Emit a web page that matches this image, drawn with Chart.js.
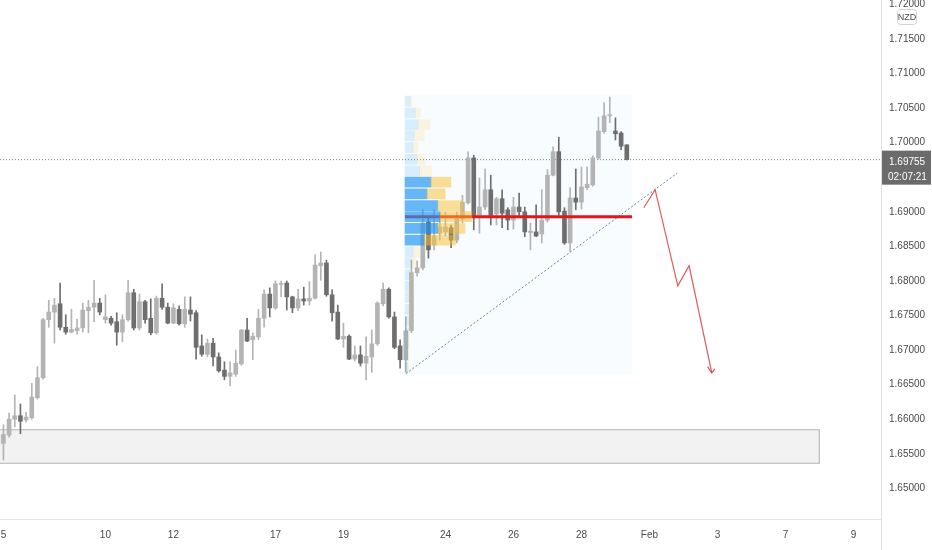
<!DOCTYPE html>
<html>
<head>
<meta charset="utf-8">
<script src="https://cdn.jsdelivr.net/npm/chart.js@4.4.1/dist/chart.umd.min.js"></script>
<style>
  html, body { margin: 0; padding: 0; background: #fff; }
  #wrap { width: 932px; height: 550px; }
</style>
</head>
<body>
<div id="wrap"><canvas id="chart" width="932" height="550"></canvas></div>
<script>
// 4h candles, index 0 = Jan 4 20:00, index 1 = Jan 5 00:00 (6 bars per trading day)
const opens = [
  1.6562, 1.6565, 1.6577, 1.6600, 1.6605, 1.6599, 1.6602, 1.6631, 1.6660, 1.6744,
  1.6755, 1.6767, 1.6733, 1.6726, 1.6728, 1.6732, 1.6757, 1.6762, 1.6768, 1.6744,
  1.6746, 1.6741, 1.6726, 1.6744, 1.6783, 1.6732, 1.6770, 1.6746, 1.6725, 1.6775,
  1.6762, 1.6739, 1.6759, 1.6738, 1.6758, 1.6754, 1.6706, 1.6694, 1.6710, 1.6690,
  1.6671, 1.6662, 1.6665, 1.6680, 1.6729, 1.6715, 1.6719, 1.6746, 1.6781, 1.6761,
  1.6795, 1.6797, 1.6777, 1.6761, 1.6774, 1.6771, 1.6775, 1.6822, 1.6826, 1.6780,
  1.6755, 1.6716, 1.6720, 1.6687, 1.6693, 1.6681, 1.6690, 1.6709, 1.6767, 1.6788,
  1.6748, 1.6706, 1.6686, 1.6728, 1.6812, 1.6819, 1.6885, 1.6852, 1.6869, 1.6871,
  1.6877, 1.6859, 1.6890, 1.6913, 1.6978, 1.6893, 1.6907, 1.6932, 1.6897, 1.6919,
  1.6903, 1.6888, 1.6907, 1.6900, 1.6870, 1.6871, 1.6868, 1.6888, 1.6953, 1.6987,
  1.6901, 1.6855, 1.6920, 1.6914, 1.6935, 1.6939, 1.6978, 1.7016, 1.7039, 1.7017,
  1.7014, 1.6997
];
const highs = [
  1.6581, 1.6592, 1.6609, 1.6635, 1.6622, 1.6610, 1.6652, 1.6676, 1.6746, 1.6772,
  1.6775, 1.6797, 1.6751, 1.6759, 1.6745, 1.6768, 1.6772, 1.6801, 1.6775, 1.6780,
  1.6749, 1.6754, 1.6751, 1.6801, 1.6788, 1.6781, 1.6772, 1.6774, 1.6778, 1.6796,
  1.6768, 1.6767, 1.6764, 1.6777, 1.6777, 1.6757, 1.6722, 1.6716, 1.6717, 1.6696,
  1.6683, 1.6683, 1.6700, 1.6730, 1.6746, 1.6725, 1.6759, 1.6787, 1.6790, 1.6800,
  1.6800, 1.6800, 1.6778, 1.6788, 1.6791, 1.6799, 1.6838, 1.6842, 1.6830, 1.6787,
  1.6765, 1.6739, 1.6722, 1.6706, 1.6706, 1.6719, 1.6729, 1.6770, 1.6797, 1.6790,
  1.6755, 1.6715, 1.6748, 1.6830, 1.6829, 1.6903, 1.6894, 1.6903, 1.6898, 1.6900,
  1.6881, 1.6900, 1.6924, 1.6987, 1.6982, 1.6949, 1.6962, 1.6953, 1.6921, 1.6932,
  1.6906, 1.6921, 1.6927, 1.6907, 1.6884, 1.6910, 1.6932, 1.6961, 1.6994, 1.7008,
  1.6906, 1.6935, 1.6962, 1.6965, 1.6965, 1.6981, 1.7037, 1.7058, 1.7066, 1.7036,
  1.7016, 1.6997
];
const lows = [
  1.6558, 1.6541, 1.6574, 1.6589, 1.6579, 1.6596, 1.6600, 1.6629, 1.6658, 1.6733,
  1.6710, 1.6729, 1.6723, 1.6725, 1.6723, 1.6726, 1.6725, 1.6741, 1.6751, 1.6739,
  1.6736, 1.6707, 1.6712, 1.6742, 1.6729, 1.6729, 1.6739, 1.6722, 1.6723, 1.6759,
  1.6738, 1.6738, 1.6736, 1.6733, 1.6742, 1.6687, 1.6691, 1.6690, 1.6677, 1.6668,
  1.6657, 1.6648, 1.6662, 1.6678, 1.6712, 1.6686, 1.6715, 1.6733, 1.6748, 1.6759,
  1.6777, 1.6758, 1.6754, 1.6757, 1.6765, 1.6765, 1.6774, 1.6801, 1.6778, 1.6742,
  1.6715, 1.6704, 1.6686, 1.6684, 1.6677, 1.6657, 1.6668, 1.6707, 1.6764, 1.6746,
  1.6702, 1.6674, 1.6668, 1.6725, 1.6807, 1.6816, 1.6833, 1.6845, 1.6859, 1.6865,
  1.6848, 1.6855, 1.6884, 1.6911, 1.6874, 1.6869, 1.6903, 1.6881, 1.6881, 1.6877,
  1.6874, 1.6875, 1.6895, 1.6864, 1.6845, 1.6864, 1.6855, 1.6885, 1.6952, 1.6895,
  1.6853, 1.6842, 1.6903, 1.6904, 1.6932, 1.6937, 1.6976, 1.7014, 1.7029, 1.7004,
  1.6990, 1.6975
];
const closes = [
  1.6577, 1.6578, 1.6600, 1.6605, 1.6597, 1.6603, 1.6632, 1.6660, 1.6744, 1.6755,
  1.6765, 1.6733, 1.6726, 1.6730, 1.6732, 1.6758, 1.6762, 1.6768, 1.6755, 1.6748,
  1.6739, 1.6726, 1.6744, 1.6783, 1.6732, 1.6770, 1.6744, 1.6725, 1.6775, 1.6762,
  1.6739, 1.6761, 1.6738, 1.6759, 1.6752, 1.6704, 1.6694, 1.6710, 1.6690, 1.6670,
  1.6662, 1.6667, 1.6681, 1.6729, 1.6713, 1.6720, 1.6746, 1.6781, 1.6761, 1.6796,
  1.6796, 1.6777, 1.6761, 1.6774, 1.6771, 1.6775, 1.6823, 1.6826, 1.6780, 1.6754,
  1.6716, 1.6720, 1.6687, 1.6693, 1.6681, 1.6691, 1.6709, 1.6768, 1.6788, 1.6748,
  1.6704, 1.6686, 1.6728, 1.6812, 1.6819, 1.6884, 1.6845, 1.6865, 1.6878, 1.6878,
  1.6859, 1.6890, 1.6914, 1.6978, 1.6893, 1.6907, 1.6932, 1.6895, 1.6919, 1.6898,
  1.6888, 1.6907, 1.6900, 1.6871, 1.6872, 1.6865, 1.6888, 1.6953, 1.6987, 1.6900,
  1.6855, 1.6920, 1.6914, 1.6936, 1.6940, 1.6978, 1.7017, 1.7039, 1.7040, 1.7013,
  1.6995, 1.69755
];

const priceTicks = [1.65, 1.655, 1.66, 1.665, 1.67, 1.675, 1.68, 1.685, 1.69, 1.695, 1.70, 1.705, 1.71, 1.715, 1.72];
const dateTickPos = [1, 19, 31, 49, 61, 79, 91, 103, 115, 127, 139, 151];
const dateTickLabels = ['5', '10', '12', '17', '19', '24', '26', '28', 'Feb', '3', '7', '9'];

const lastPrice = 1.69755;
const countdown = '02:07:21';
const currency = 'NZD';

// fixed range volume profile, rows top to bottom, volumes in bar widths
const profileRows = [
  1.7060, 1.7043, 1.7026, 1.7010, 1.6993, 1.6976, 1.6959, 1.6943, 1.6926, 1.6909,
  1.6893, 1.6876, 1.6859, 1.6842, 1.6826, 1.6809, 1.6792, 1.6776, 1.6759, 1.6742,
  1.6725, 1.6709, 1.6692, 1.6675
];
const profileUp = [0.9, 1.8, 2.3, 1.6, 1.4, 2.1, 2.6, 4.6, 3.9, 5.8, 6.2, 5.8, 3.4, 1.4, 1.2, 0.9, 0.8, 0.8, 0.7, 0.7, 0.6, 0.6, 0.5, 0.5];
const profileDown = [0.3, 0.9, 2.1, 1.8, 0.9, 1.4, 2.1, 3.5, 3.2, 4.4, 5.6, 4.8, 5.5, 1.2, 0.7, 0.4, 0.3, 0.3, 0.3, 0.2, 0.2, 0.2, 0.2, 0.2];
const valueArea = [7, 12]; // first and last row inside the value area
const profileFrom = 71.86;
const profileTo = 111.92;
const profileHigh = 1.7069;
const profileLow = 1.6664;
const pocPrice = 1.6893;

// drawings
const trendLine = [{ x: 72.04, y: 1.6666 }, { x: 119.9, y: 1.6956 }];
const projection = [
  { x: 114, y: 1.6906 }, { x: 116, y: 1.6932 }, { x: 120, y: 1.6793 },
  { x: 122, y: 1.6822 }, { x: 126, y: 1.6667 }
];
const arrowHead = [{ x: 125.25, y: 1.6676 }, { x: 126, y: 1.6667 }, { x: 126.55, y: 1.6673 }];
const zoneFrom = -3;
const zoneTo = 145;
const zoneHigh = 1.6585;
const zoneLow = 1.6536;

const xMin = 0.395;
const xMax = 155.86;
const yMin = 1.64556;
const yMax = 1.72065;

const upColor = '#b4b4b4';
const downColor = '#6e6e6e';
const axisFont = { family: '"Liberation Sans", Arial, sans-serif', size: 10 };

const idx = opens.map((_, i) => i);
const candleColors = idx.map(i => closes[i] >= opens[i] ? upColor : downColor);
const inValueArea = k => k >= valueArea[0] && k <= valueArea[1];

// price tag on the axis, currency badge, axis corner
const axisTags = {
  id: 'axisTags',
  afterDraw(chart) {
    const { ctx, chartArea, scales } = chart;
    const py = scales.y.getPixelForValue(lastPrice);
    const left = chartArea.right;
    ctx.save();
    ctx.strokeStyle = '#e0e3eb';
    ctx.lineWidth = 1;
    ctx.beginPath();
    ctx.moveTo(left + 0.5, chartArea.bottom);
    ctx.lineTo(left + 0.5, chart.height);
    ctx.stroke();

    ctx.fillStyle = '#6b6b6b';
    ctx.fillRect(left + 1, py - 9, 49, 34);
    ctx.fillStyle = '#ffffff';
    ctx.font = '10px ' + axisFont.family;
    ctx.textBaseline = 'middle';
    ctx.textAlign = 'left';
    ctx.fillText(lastPrice.toFixed(5), left + 8, py + 3);
    ctx.fillText(countdown, left + 7, py + 18);

    ctx.fillStyle = '#ffffff';
    ctx.strokeStyle = '#cfd2d9';
    ctx.beginPath();
    ctx.roundRect(left + 16.5, 9.5, 19, 15, 3);
    ctx.fill();
    ctx.stroke();
    ctx.fillStyle = '#4a4a4a';
    ctx.font = '9px ' + axisFont.family;
    ctx.textAlign = 'center';
    ctx.fillText(currency, left + 26, 17.5);
    ctx.restore();
  }
};

new Chart(document.getElementById('chart'), {
  type: 'bar',
  data: {
    datasets: [
      {
        type: 'bar', indexAxis: 'y', grouped: false, order: 30,
        data: [{ y: (zoneHigh + zoneLow) / 2, x: [zoneFrom, zoneTo] }],
        backgroundColor: '#f2f2f2', borderColor: '#9a9a9a', borderWidth: 1,
        borderSkipped: false, barThickness: 34
      },
      {
        type: 'bar', indexAxis: 'y', grouped: false, order: 29,
        data: [{ y: (profileHigh + profileLow) / 2, x: [profileFrom, profileTo] }],
        backgroundColor: 'rgba(33,150,243,0.03)', barThickness: 280
      },
      {
        type: 'line', order: 28,
        data: [{ x: xMin, y: lastPrice }, { x: xMax, y: lastPrice }],
        borderColor: '#7d7d7d', borderWidth: 1, borderDash: [1, 2], pointRadius: 0
      },
      {
        type: 'line', order: 27, data: trendLine,
        borderColor: '#5f84ad', borderWidth: 1, borderDash: [2, 2], pointRadius: 0
      },
      {
        type: 'bar', grouped: false, order: 20,
        data: idx.map(i => ({ x: i, y: [lows[i], highs[i]] })),
        backgroundColor: candleColors, barThickness: 1
      },
      {
        type: 'bar', grouped: false, order: 19,
        data: idx.map(i => ({ x: i, y: [opens[i], closes[i]] })),
        backgroundColor: candleColors, barThickness: 4, minBarLength: 1
      },
      {
        type: 'line', order: 15,
        data: [{ x: profileFrom, y: pocPrice }, { x: profileTo, y: pocPrice }],
        borderColor: '#e3161c', borderWidth: 3, pointRadius: 0
      },
      {
        type: 'bar', indexAxis: 'y', grouped: false, order: 10,
        data: profileRows.map((p, k) => ({ y: p, x: [profileFrom, profileFrom + profileUp[k]] })),
        backgroundColor: profileRows.map((_, k) => inValueArea(k) ? 'rgba(33,150,243,0.68)' : 'rgba(33,150,243,0.15)'),
        barThickness: 10
      },
      {
        type: 'bar', indexAxis: 'y', grouped: false, order: 9,
        data: profileRows.map((p, k) => ({ y: p, x: [profileFrom + profileUp[k], profileFrom + profileUp[k] + profileDown[k]] })),
        backgroundColor: profileRows.map((_, k) => inValueArea(k) ? 'rgba(251,192,45,0.5)' : 'rgba(251,192,45,0.15)'),
        barThickness: 10
      },
      {
        type: 'line', order: 2, data: projection,
        borderColor: 'rgba(218,62,62,0.85)', borderWidth: 1.2, pointRadius: 0, tension: 0
      },
      {
        type: 'line', order: 1, data: arrowHead,
        borderColor: 'rgba(218,62,62,0.85)', borderWidth: 1.2, pointRadius: 0, tension: 0
      }
    ]
  },
  options: {
    responsive: false,
    animation: false,
    devicePixelRatio: 1,
    layout: { padding: 0 },
    plugins: { legend: { display: false }, tooltip: { enabled: false } },
    scales: {
      x: {
        type: 'linear', min: xMin, max: xMax, offset: false,
        grid: { display: true, color: 'rgba(0,0,0,0)', drawTicks: false, offset: false },
        border: { display: true, color: '#e0e3eb' },
        afterBuildTicks: scale => { scale.ticks = dateTickPos.map(v => ({ value: v })); },
        afterFit: scale => { scale.height = 31; scale.paddingLeft = 0; scale.paddingRight = 0; },
        ticks: {
          autoSkip: false, maxRotation: 0, minRotation: 0, padding: 10,
          color: '#4a4a4a', font: axisFont,
          callback: (v, i) => dateTickLabels[i]
        }
      },
      y: {
        type: 'linear', position: 'right', min: yMin, max: yMax, offset: false,
        grid: { display: true, color: 'rgba(0,0,0,0)', drawTicks: false, offset: false },
        border: { display: true, color: '#e0e3eb' },
        afterBuildTicks: scale => { scale.ticks = priceTicks.map(v => ({ value: v })); },
        afterFit: scale => { scale.width = 51; scale.paddingTop = 0; scale.paddingBottom = 0; },
        ticks: {
          autoSkip: false, padding: 8, color: '#4a4a4a', font: axisFont,
          callback: v => v.toFixed(5)
        }
      }
    }
  },
  plugins: [axisTags]
});
</script>
</body>
</html>
